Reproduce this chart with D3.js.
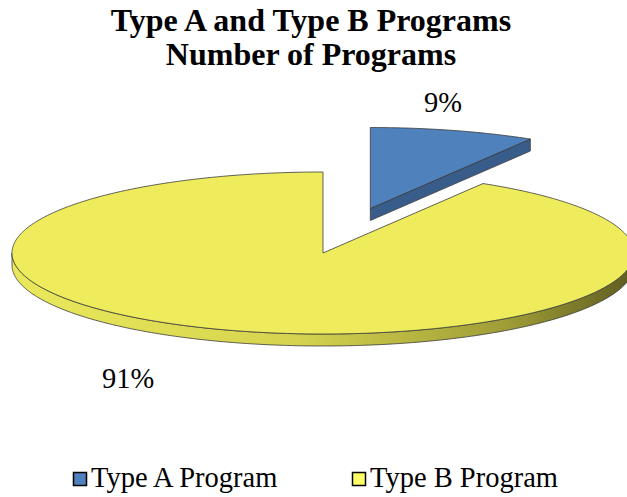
<!DOCTYPE html>
<html>
<head>
<meta charset="utf-8">
<script src="https://cdn.jsdelivr.net/npm/d3@7"></script>
<style>
  body { margin: 0; background: #fff; }
  text { font-family: "Times New Roman", "Liberation Serif", serif; }
</style>
</head>
<body>
<div id="chart"></div>
<script>
// data
const categories = ["Type A Program", "Type B Program"];
const shares = [8.6, 91.4];
const labels = ["9%", "91%"];
const titleLines = ["Type A and Type B Programs", "Number of Programs"];

const W = 627, H = 497;
const svg = d3.select("#chart").append("svg")
  .attr("width", W).attr("height", H);

// ellipse geometry of the tilted pie
const cx = 323, cy = 253, rx = 311, ry = 81, depth = 12;
const explode = 0.57;

const topColors = ["#4F81BD", "#EEEC5C"];
const sideColors = ["#385D8A", null];
const stroke = "#3a3a3a";

const defs = svg.append("defs");
const grad = defs.append("linearGradient")
  .attr("id", "ySide")
  .attr("gradientUnits", "userSpaceOnUse")
  .attr("x1", cx - rx).attr("x2", cx + rx).attr("y1", 0).attr("y2", 0);
grad.append("stop").attr("offset", 0).attr("stop-color", "#EAE85A");
grad.append("stop").attr("offset", 0.45).attr("stop-color", "#D6D44F");
grad.append("stop").attr("offset", 0.8).attr("stop-color", "#9E9C36");
grad.append("stop").attr("offset", 1).attr("stop-color", "#5E5C20");

const pie = d3.pie().sort(null).value(d => d);
const arcs = pie(shares);

const line = d3.line();

function proj(theta, ox, oy, dz) {
  return [ox + rx * Math.sin(theta), oy - ry * Math.cos(theta) + (dz || 0)];
}

function sample(a0, a1) {
  const n = Math.max(2, Math.ceil(Math.abs(a1 - a0) / 0.01));
  return d3.range(n + 1).map(i => a0 + (a1 - a0) * i / n);
}

arcs.forEach((a, i) => { a.index = i; });
const slices = arcs.map(a => {
  const mid = (a.startAngle + a.endAngle) / 2;
  const k = a.index === 0 ? explode : 0;
  return {
    a,
    ox: cx + rx * k * Math.sin(mid),
    oy: cy - ry * k * Math.cos(mid)
  };
});

// draw back to front: yellow first, then the exploded blue slice
const order = [1, 0];
order.forEach(i => {
  const s = slices[i];
  const a = s.a;
  const g = svg.append("g");

  // curved front side (visible part lies between 90deg and 270deg)
  const f0 = Math.max(a.startAngle, Math.PI / 2);
  const f1 = Math.min(a.endAngle, Math.PI * 1.5);
  if (f1 > f0) {
    const ts = sample(f0, f1);
    const pts = ts.map(t => proj(t, s.ox, s.oy))
      .concat(ts.slice().reverse().map(t => proj(t, s.ox, s.oy, depth)));
    g.append("path")
      .attr("d", line(pts) + "Z")
      .attr("fill", i === 1 ? "url(#ySide)" : sideColors[i])
      .attr("stroke", stroke).attr("stroke-width", 0.8);
  }

  // radial side at end angle when it faces the viewer
  if (a.endAngle < Math.PI) {
    const e = a.endAngle;
    const pts = [
      [s.ox, s.oy], proj(e, s.ox, s.oy),
      proj(e, s.ox, s.oy, depth), [s.ox, s.oy + depth]
    ];
    g.append("path")
      .attr("d", line(pts) + "Z")
      .attr("fill", sideColors[i])
      .attr("stroke", stroke).attr("stroke-width", 0.8);
  }

  // top face
  const ts = sample(a.startAngle, a.endAngle);
  const pts = [[s.ox, s.oy]].concat(ts.map(t => proj(t, s.ox, s.oy)));
  g.append("path")
    .attr("d", line(pts) + "Z")
    .attr("fill", topColors[i])
    .attr("stroke", stroke).attr("stroke-width", 0.8)
    .attr("stroke-linejoin", "round");
});

// title
svg.append("g").selectAll("text")
  .data(titleLines)
  .join("text")
  .attr("x", 311)
  .attr("y", (d, i) => 31 + i * 34)
  .attr("text-anchor", "middle")
  .attr("font-size", 32)
  .attr("font-weight", "bold")
  .attr("fill", "#000")
  .text(d => d);

// data labels
const labelPos = [[443, 112], [128, 388]];
svg.append("g").selectAll("text")
  .data(labels)
  .join("text")
  .attr("x", (d, i) => labelPos[i][0])
  .attr("y", (d, i) => labelPos[i][1])
  .attr("text-anchor", "middle")
  .attr("font-size", 28.5)
  .attr("fill", "#000")
  .text(d => d);

// legend
const legendX = d3.scalePoint().domain(categories).range([73, 352]);
const leg = svg.append("g").selectAll("g")
  .data(categories)
  .join("g")
  .attr("transform", d => `translate(${legendX(d)},0)`);
leg.append("rect")
  .attr("x", 0.5).attr("y", 472.5)
  .attr("width", 13).attr("height", 13)
  .attr("fill", (d, i) => i === 0 ? "#4F81BD" : "#FFFF66")
  .attr("stroke", "#000").attr("stroke-width", 1.5);
leg.append("text")
  .attr("x", 18).attr("y", 487)
  .attr("font-size", 28.5)
  .attr("fill", "#000")
  .text(d => d);
</script>
</body>
</html>
